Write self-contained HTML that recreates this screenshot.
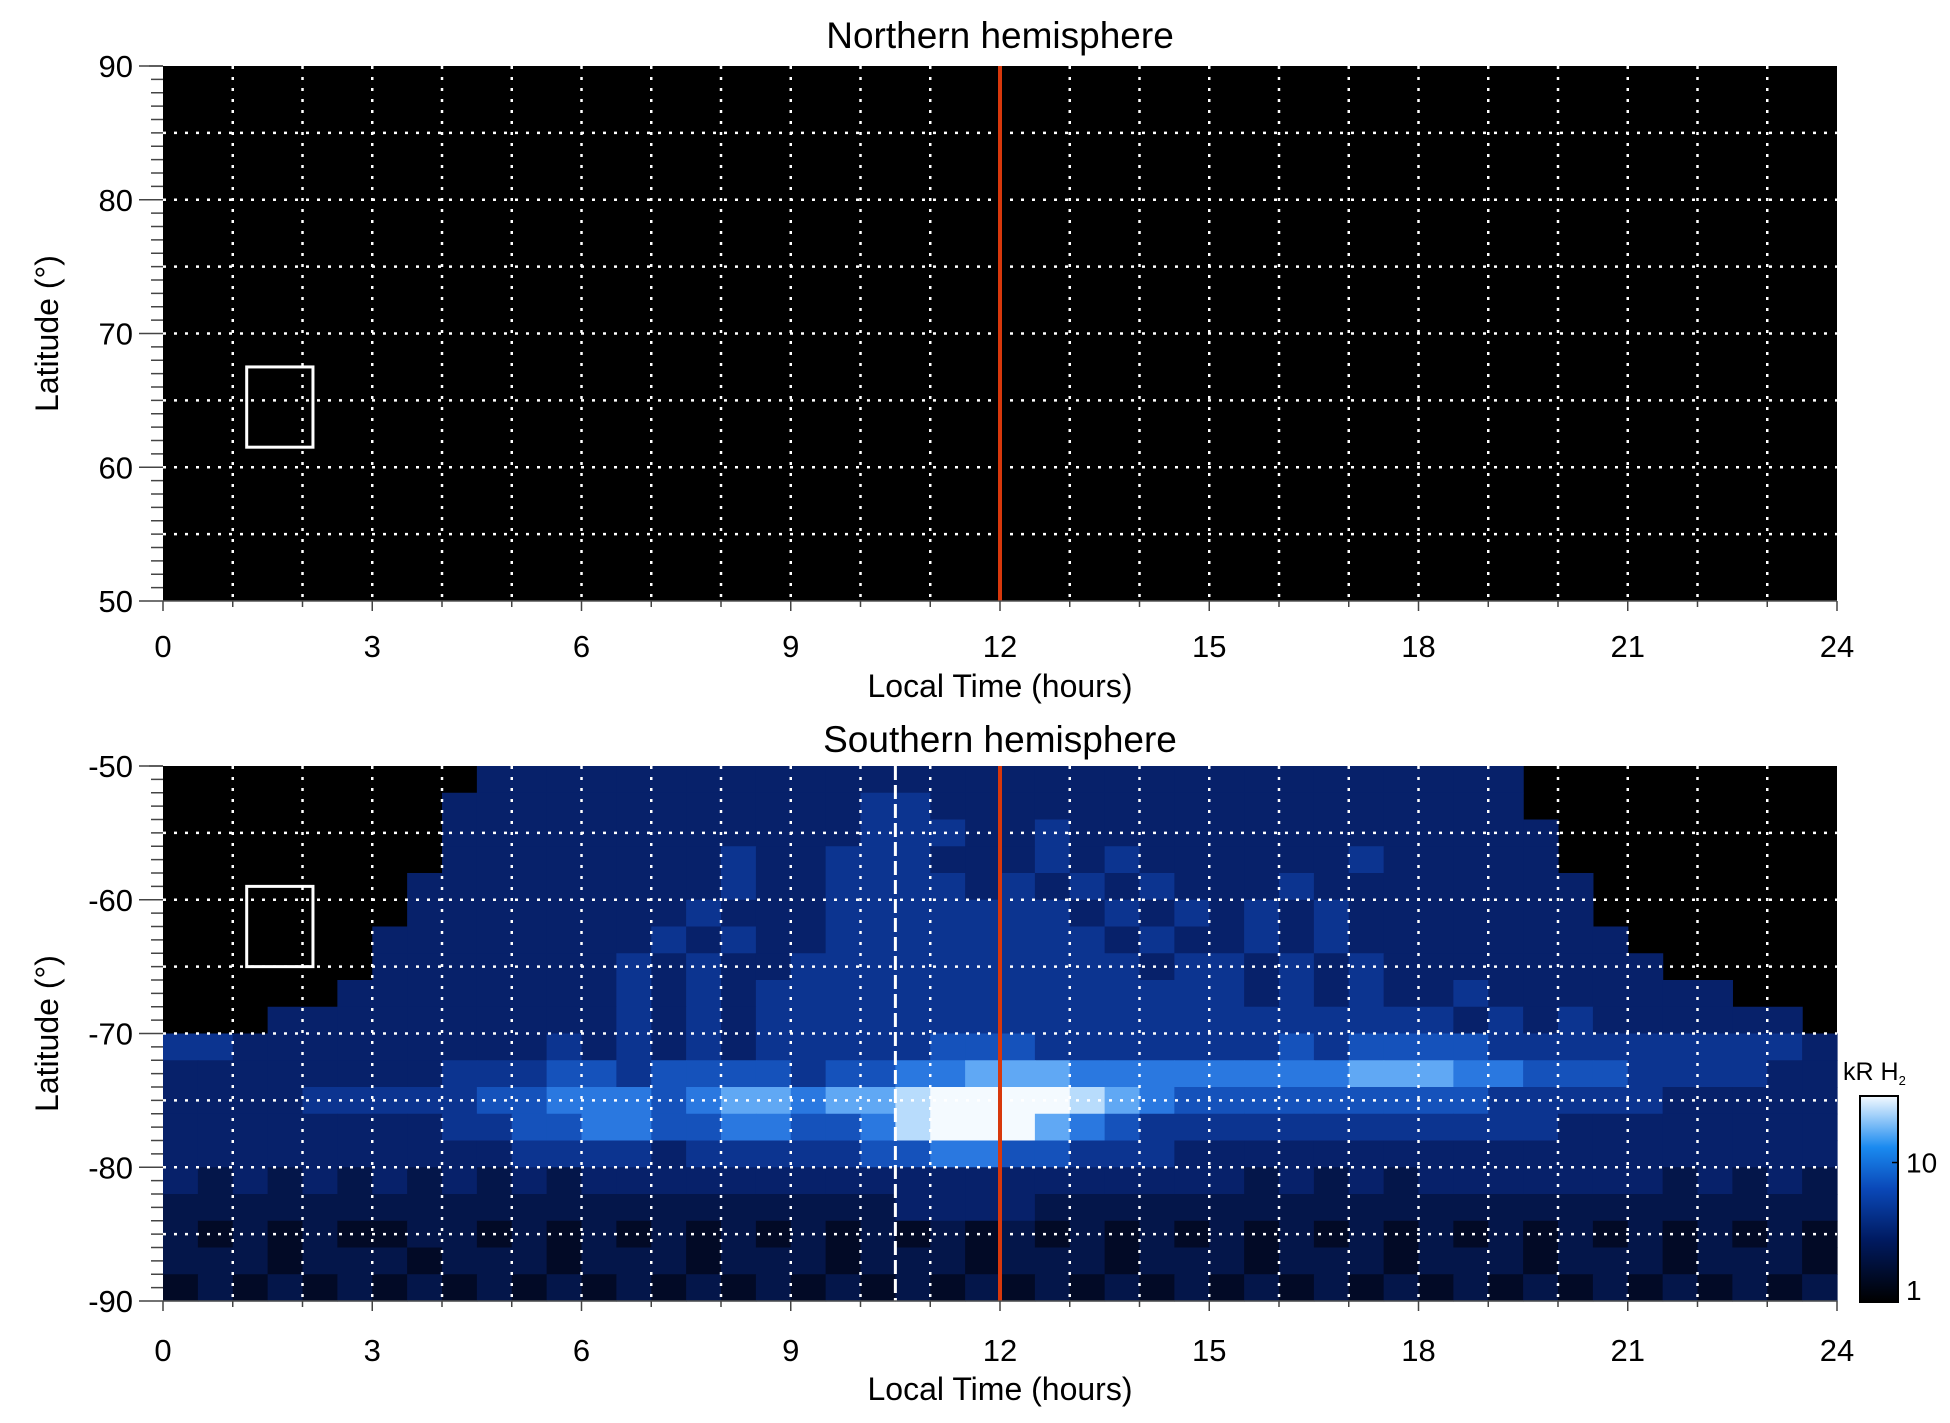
<!DOCTYPE html>
<html><head><meta charset="utf-8"><style>
html,body{margin:0;padding:0;background:#fff;}
svg{display:block;font-family:"Liberation Sans",sans-serif;}
</style></head><body>
<svg id="chart" width="1950" height="1423" viewBox="0 0 1950 1423">
<defs>
<linearGradient id="cbg" x1="0" y1="1" x2="0" y2="0">
<stop offset="0" stop-color="#000"/><stop offset="0.3" stop-color="#001a60"/><stop offset="0.55" stop-color="#0a48b8"/><stop offset="0.75" stop-color="#1a8af0"/><stop offset="1" stop-color="#f4faff"/>
</linearGradient>
</defs>
</svg>
<script>
// ---- data ----
const ltStart = 0, ltEnd = 24, ltBin = 0.5;
const latTop = -50, latBin = 2;
const southRows = [
"000000000333333333333333333333333333333000000000",
"000000003333333333334433333333333333333000000000",
"000000003333333333334443343333333333333300000000",
"000000003333333343344433343433333343333300000000",
"000000033333333343344443434343334333333330000000",
"000000033333333433344444443434343433333330000000",
"000000333333334343344444444343343433333333000000",
"000000333333343433444444444434434343333333300000",
"000003333333343434444444444444434343343333333000",
"000333333333343434444444444444444444434343333330",
"443333333334343434444455544444445455554444444443",
"333333334445545555455667776666666677766555444433",
"333344444556665677677899998765555555554444433333",
"333333334455665566556899976544444444444433333333",
"333333333344443444445566554443333333333333333333",
"323232323232333333333333333333323232333333323232",
"222222222222222222222333322222222222222222222222",
"212121122121212121212121212121212121212121212121",
"222122212221222122212221222122212221222122212221",
"121212121212121212121212121212121212121212121212"
];
const levelColors = ["#000000","#020a26","#04164a","#07216a","#0c3490","#1552bb","#2a78e0","#60a8f4","#b8dcfc","#f4faff"];
const xTicks = [0,3,6,9,12,15,18,21,24];
const northYTicks = [90,80,70,60,50];
const southYTicks = [-50,-60,-70,-80,-90];
const noonLT = 12, dashedLT = 10.5;
const boxLT = [1.2, 2.15];
const northBoxLat = [61.5, 67.5];
const southBoxLat = [-59, -65];
const cbTicks = [1,10];
const cbMax = 30;

// ---- layout ----
const NS = "http://www.w3.org/2000/svg";
const svg = document.getElementById("chart");
const X0 = 163, X1 = 1837;
const panels = [
  {name:"north", y0:66, y1:601, latMax:90, latMin:50, ticks:northYTicks, title:"Northern hemisphere", titleY:48, xlabY:657, xtitleY:697},
  {name:"south", y0:766, y1:1301, latMax:-50, latMin:-90, ticks:southYTicks, title:"Southern hemisphere", titleY:752, xlabY:1361, xtitleY:1400}
];
function el(tag, attrs, parent){const e=document.createElementNS(NS,tag);for(const k in attrs)e.setAttribute(k,attrs[k]);(parent||svg).appendChild(e);return e;}
function xs(lt){return X0 + (lt-ltStart)/(ltEnd-ltStart)*(X1-X0);}

panels.forEach(p=>{
  const ys = lat => p.y0 + (p.latMax-lat)/(p.latMax-p.latMin)*(p.y1-p.y0);
  const g = el("g",{});
  
  
  const bg = el("rect",{x:X0,y:p.y0,width:X1-X0,height:p.y1-p.y0,fill:"#000"},g);
  
  
  if(p.name==="south"){
    const hg = el("g",{},g);
    
    
    southRows.forEach((row,r)=>{
      const la = latTop - r*latBin;
      for(let c=0;c<row.length;c++){
        const v=+row[c]; if(v===0) continue;
        const lt=ltStart+c*ltBin;
        const cell=el("rect",{x:xs(lt),y:ys(la),width:xs(lt+ltBin)-xs(lt)+0.6,height:ys(la-latBin)-ys(la)+0.6,fill:levelColors[v]},hg);
        
        
      }
    });
  }
  for(let h=1;h<24;h++){
    const l=el("line",{x1:xs(h),x2:xs(h),y1:p.y0,y2:p.y1,stroke:"#fff","stroke-width":2.5,"stroke-dasharray":"3 8"},g);
    
    
  }
  for(let la=p.latMin+5;la<p.latMax;la+=5){
    const l=el("line",{x1:X0,x2:X1,y1:ys(la),y2:ys(la),stroke:"#fff","stroke-width":2.5,"stroke-dasharray":"3 8"},g);
    
    
  }
  if(p.name==="south"){
    const d=el("line",{x1:xs(dashedLT),x2:xs(dashedLT),y1:p.y0,y2:p.y1,stroke:"#fff","stroke-width":3,"stroke-dasharray":"14 5"},g);
    
    
  }
  const red=el("line",{x1:xs(noonLT),x2:xs(noonLT),y1:p.y0,y2:p.y1,stroke:"#d8380c","stroke-width":4},g);
  
  
  const bl = p.name==="north"?northBoxLat:southBoxLat;
  const box=el("rect",{x:xs(boxLT[0]),y:ys(Math.max(...bl)),width:xs(boxLT[1])-xs(boxLT[0]),height:ys(Math.min(...bl))-ys(Math.max(...bl)),fill:"none",stroke:"#fff","stroke-width":3},g);
  
  
  el("line",{x1:X0,x2:X1,y1:p.y1,y2:p.y1,stroke:"#555","stroke-width":1.5},g);
  el("line",{x1:X0-14,x2:X0,y1:p.y0,y2:p.y0,stroke:"#555","stroke-width":1.5},g);
  for(let la=p.latMin;la<=p.latMax;la++){
    const maj=(la%10===0);
    el("line",{x1:X0-(maj?24:12),x2:X0,y1:ys(la),y2:ys(la),stroke:"#444","stroke-width":1.5},g);
  }
  for(let h=0;h<=24;h++){
    el("line",{x1:xs(h),x2:xs(h),y1:p.y1,y2:p.y1+(h%3===0?10:6),stroke:"#444","stroke-width":1.5},g);
  }
  p.ticks.forEach(t=>{
    const tx=el("text",{x:X0-30,y:ys(t)+11,"text-anchor":"end","font-size":31},g);
    tx.textContent=t;
    
    
  });
  xTicks.forEach(t=>{
    const tx=el("text",{x:xs(t),y:p.xlabY,"text-anchor":"middle","font-size":31},g);
    tx.textContent=t;
    
    
  });
  const ti=el("text",{x:(X0+X1)/2,y:p.titleY,"text-anchor":"middle","font-size":37},g);
  ti.textContent=p.title;
  
  
  const xt=el("text",{x:(X0+X1)/2,y:p.xtitleY,"text-anchor":"middle","font-size":32},g);
  xt.textContent="Local Time (hours)";
  
  
  const yc=(p.y0+p.y1)/2;
  const yt=el("text",{x:58,y:yc,"text-anchor":"middle","font-size":32,transform:`rotate(-90 58 ${yc})`},g);
  yt.textContent="Latitude (°)";
  
  
});

// colorbar
const CB = {x:1860,y0:1096,y1:1302,w:38};
const cby = v => CB.y1 - Math.log10(v)/Math.log10(cbMax)*(CB.y1-CB.y0);
const cbg=el("g",{});


el("rect",{x:CB.x,y:CB.y0,width:CB.w,height:CB.y1-CB.y0,fill:"url(#cbg)",stroke:"#000","stroke-width":2},cbg);
cbTicks.forEach(t=>{
  el("line",{x1:CB.x+CB.w-6,x2:CB.x+CB.w,y1:cby(t),y2:cby(t),stroke:"#000","stroke-width":1.5},cbg);
  const tx=el("text",{x:CB.x+CB.w+8,y:cby(t)+(t===1?-2:10),"font-size":28},cbg);
  tx.textContent=t;
  
  
});
const u=el("text",{x:1843,y:1080,"font-size":25},cbg);
u.innerHTML='kR H<tspan font-size="13" dy="5">2</tspan>';


</script>
</body></html>
